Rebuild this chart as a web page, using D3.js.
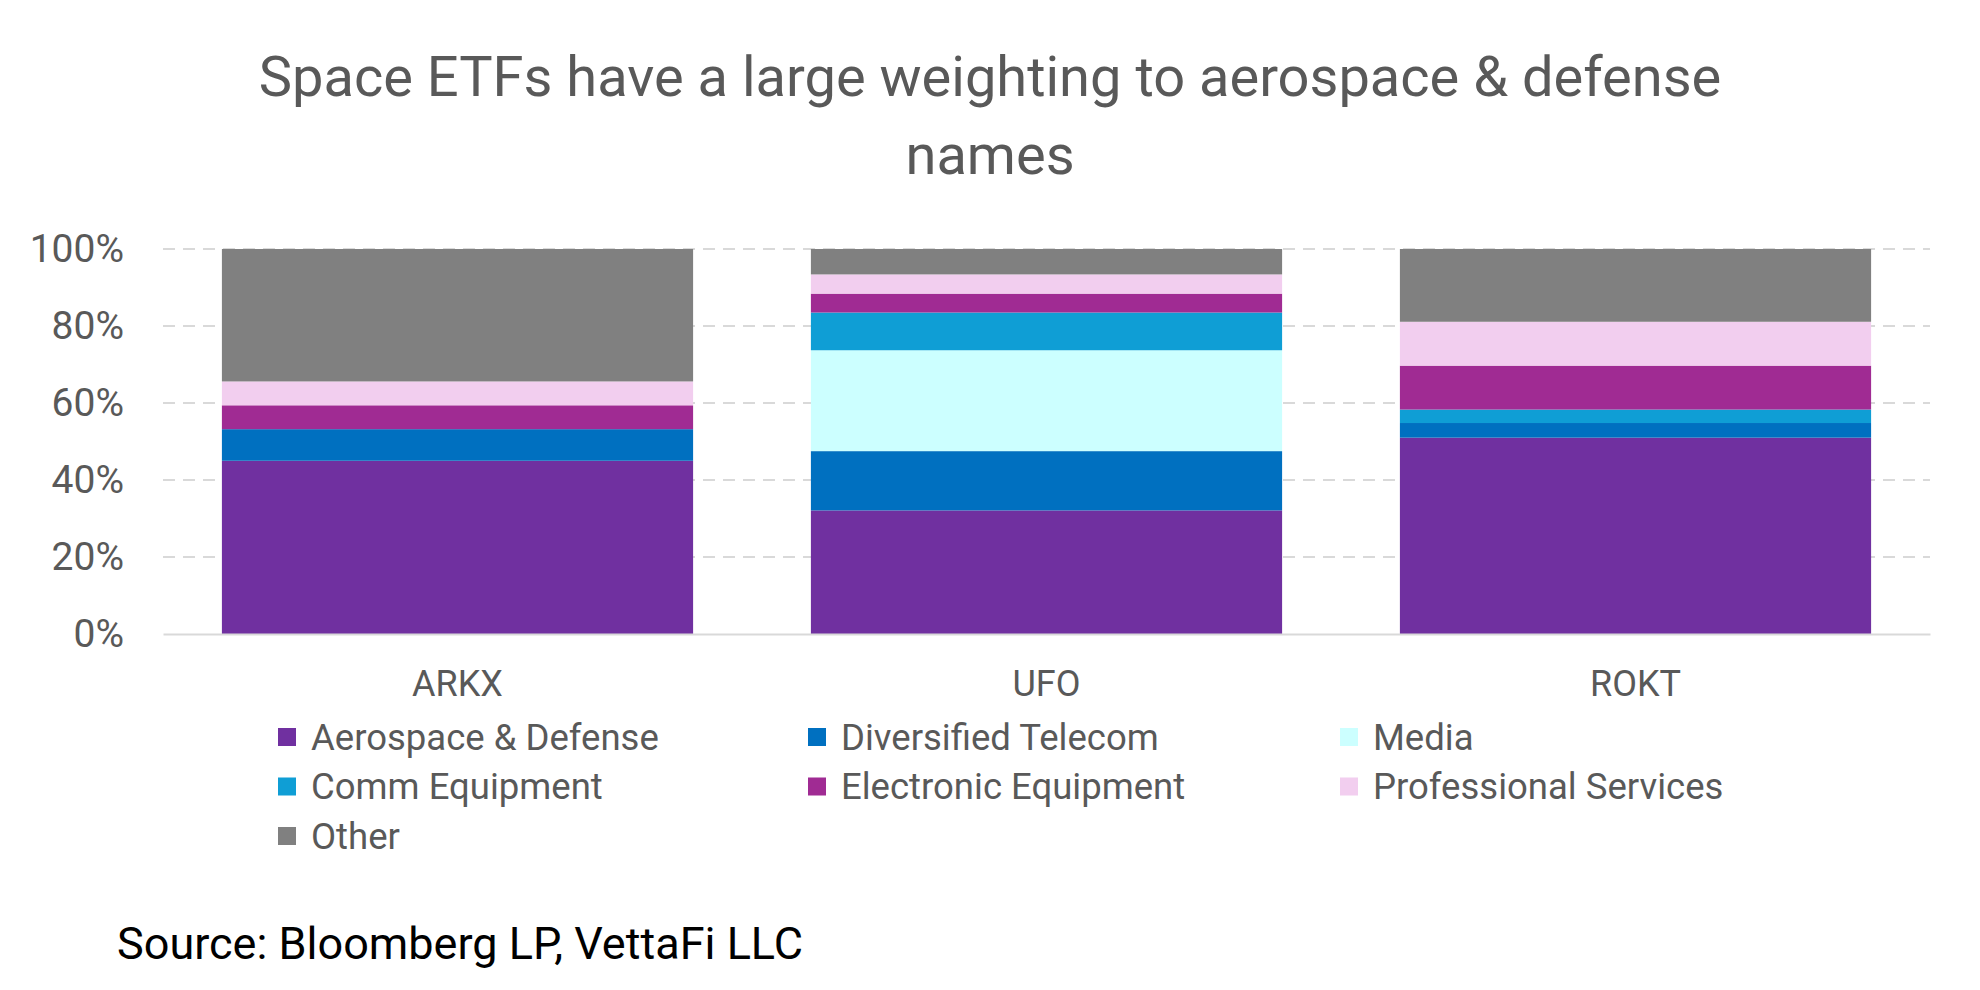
<!DOCTYPE html>
<html lang="en">
<head>
    <meta charset="UTF-8">
    <title>Space ETFs</title>
    <script src="https://d3js.org/d3.v7.min.js"></script>
    <style>
        body { margin: 0; background: #fff; }
        text { font-family: Roboto, "Open Sans", Arial, sans-serif; }
    </style>
</head>
<body>
    <div id="chart"></div>
    <script>
        // data
        const funds = ["ARKX", "UFO", "ROKT"];
        const sectors = ["Aerospace & Defense", "Diversified Telecom", "Media", "Comm Equipment",
                         "Electronic Equipment", "Professional Services", "Other"];
        const aerospace   = [45.0, 32.1, 51.0];
        const divTelecom  = [8.2, 15.4, 3.8];
        const media       = [0, 26.2, 0];
        const commEquip   = [0, 9.8, 3.5];
        const electronic  = [6.2, 4.9, 11.4];
        const profServ    = [6.2, 5.0, 11.4];
        const other       = [34.4, 6.6, 18.9];
        const yTicks = [0, 20, 40, 60, 80, 100];
        const colors = ["#7030a0", "#0070c0", "#ccffff", "#0f9ed5", "#a02b93", "#f2ceef", "#808080"];

        const series = [aerospace, divTelecom, media, commEquip, electronic, profServ, other];
        const rows = funds.map((f, i) => {
            const r = { fund: f };
            sectors.forEach((s, j) => r[s] = series[j][i]);
            return r;
        });

        const W = 1980, H = 990;
        const svg = d3.select("#chart").append("svg").attr("width", W).attr("height", H);

        const x = d3.scaleBand().domain(funds).range([163, 1930]).paddingInner(0.2).paddingOuter(0.1);
        const y = d3.scaleLinear().domain([0, 100]).range([634, 249]);
        const color = d3.scaleOrdinal().domain(sectors).range(colors);

        // title
        svg.append("text").attr("x", 990).attr("y", 76).attr("dy", "0.35em")
            .attr("text-anchor", "middle").attr("font-size", 56).attr("fill", "#595959")
            .text("Space ETFs have a large weighting to aerospace & defense");
        svg.append("text").attr("x", 990).attr("y", 154).attr("dy", "0.35em")
            .attr("text-anchor", "middle").attr("font-size", 56).attr("fill", "#595959")
            .text("names");

        // gridlines
        svg.append("g").selectAll("line").data(yTicks.filter(d => d > 0)).enter().append("line")
            .attr("x1", 163).attr("x2", 1930)
            .attr("y1", d => y(d)).attr("y2", d => y(d))
            .attr("stroke", "#d9d9d9").attr("stroke-width", 2).attr("stroke-dasharray", "12,8");

        // y axis
        const yAxis = svg.append("g").attr("transform", "translate(124,0)")
            .call(d3.axisLeft(y).tickValues(yTicks).tickSize(0).tickPadding(0).tickFormat(d => d + "%"));
        yAxis.select(".domain").remove();
        yAxis.selectAll("text").attr("font-size", 39).attr("fill", "#595959")
            .attr("font-family", "Roboto, sans-serif");

        // bars
        const stack = d3.stack().keys(sectors)(rows);
        svg.append("g").selectAll("g").data(stack).enter().append("g")
            .attr("fill", d => color(d.key))
            .selectAll("rect").data(d => d).enter().append("rect")
            .attr("x", d => x(d.data.fund))
            .attr("width", x.bandwidth())
            .attr("y", d => y(d[1]))
            .attr("height", d => y(d[0]) - y(d[1]));

        // x axis
        const xAxis = svg.append("g").attr("transform", "translate(0,634)")
            .call(d3.axisBottom(x).tickSize(0).tickPadding(36));
        xAxis.select(".domain").attr("stroke", "#d9d9d9").attr("stroke-width", 2);
        xAxis.selectAll("text").attr("font-size", 36).attr("fill", "#595959")
            .attr("font-family", "Roboto, sans-serif");

        // legend
        const legend = svg.append("g").selectAll("g").data(sectors).enter().append("g")
            .attr("transform", (d, i) => `translate(${[278, 808, 1340][i % 3]},${737 + Math.floor(i / 3) * 49.5})`);
        legend.append("rect").attr("x", 0).attr("y", -9).attr("width", 18).attr("height", 18)
            .attr("fill", d => color(d));
        legend.append("text").attr("x", 33).attr("dy", "0.35em").attr("font-size", 36.5)
            .attr("fill", "#595959").text(d => d);

        // source
        svg.append("text").attr("x", 117).attr("y", 943).attr("dy", "0.35em")
            .attr("font-size", 45).attr("fill", "#000").text("Source: Bloomberg LP, VettaFi LLC");
    </script>
</body>
</html>
